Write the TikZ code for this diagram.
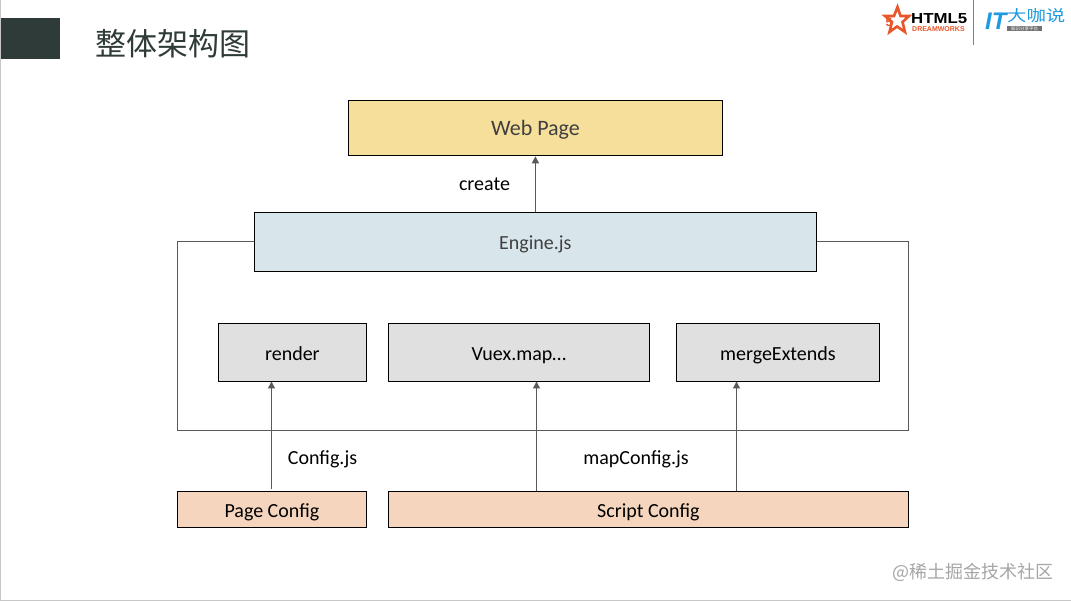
\documentclass[tikz,border=0pt]{standalone}
\usepackage{fontspec}
\setmainfont{Carlito}
\newfontfamily\cjk{Noto Sans CJK SC}
\newfontfamily\cjkw{Noto Sans CJK SC}[FakeStretch=1.25]
\newfontfamily\hv{Liberation Sans}
\newfontfamily\hvw{Liberation Sans}[FakeStretch=1.16]
\usetikzlibrary{arrows.meta,shapes.geometric}
\definecolor{ink}{HTML}{2F3B38}
\definecolor{yel}{HTML}{F5DF9B}
\definecolor{blu}{HTML}{D8E6EC}
\definecolor{gry}{HTML}{E0E0E0}
\definecolor{pch}{HTML}{F5D5BD}
\definecolor{lin}{HTML}{595959}
\definecolor{org}{HTML}{E8562A}
\definecolor{itb}{HTML}{1E9BE0}
\tikzset{
  x=1pt,y=-1pt,
  box/.style={draw=black,line width=0.8pt,inner sep=0pt,anchor=north west,text height=15.5pt,text depth=0pt,font=\fontsize{20}{24}\selectfont,text=black},
  lnk/.style={draw=lin,line width=1pt},
  arr/.style={lnk,line width=1.3pt,-{Triangle[length=7pt,width=7pt]}},
  lbl/.style={font=\fontsize{20}{24}\selectfont,text=black,inner sep=0pt},
}
\begin{document}
\begin{tikzpicture}
\useasboundingbox (0,0) rectangle (1071,601);
\fill[white] (0,0) rectangle (1071,601);
\draw[black!22,line width=1pt] (0.5,0) -- (0.5,600.5) -- (1071,600.5);
\node[fill=ink,minimum width=59pt,minimum height=41pt,inner sep=0pt,anchor=north west] (tab) at (1,18) {};
\node[anchor=west,inner sep=0pt,text=ink,font=\cjk\fontsize{31}{36}\selectfont] (title) at (95.5,44) {整体架构图};

\node[box,fill=yel,minimum width=374pt,minimum height=55pt,text height=14pt,font=\fontsize{22}{26}\selectfont,text=black!75] (web) at (348,100.5) {Web Page};
\node[box,fill=blu,minimum width=562pt,minimum height=59pt,font=\fontsize{20}{24}\selectfont,text=black!75] (eng) at (254,212) {Engine.js};
\node[box,fill=gry,minimum width=148pt,minimum height=58pt] (ren) at (218,323.5) {render};
\node[box,fill=gry,minimum width=261pt,minimum height=58pt] (vux) at (388,323.5) {Vuex.map…};
\node[box,fill=gry,minimum width=203pt,minimum height=58pt] (mrg) at (676,323.5) {mergeExtends};
\node[box,fill=pch,minimum width=189pt,minimum height=36pt] (pg) at (177,491) {Page Config};
\node[box,fill=pch,minimum width=520pt,minimum height=36pt] (sc) at (388,491) {Script Config};

\node[lbl] (lc) at (484.5,184) {create};
\node[lbl] (lj) at (322.5,459) {Config.js};
\node[lbl] (lm) at (636,459) {mapConfig.js};

\coordinate (fl) at (177.5,430.5);
\coordinate (fr) at (908.5,430.5);
\draw[lnk,line width=0.8pt] (eng.west) -- (eng.west -| fl) -- (fl) -- (fr) -- (eng.east -| fr) -- (eng.east);

\draw[arr] (eng.north -| web.south) -- (web.south);
\coordinate (a1) at (271.5,489);
\coordinate (a1t) at (271.5,381.5);
\draw[arr] (a1) -- (a1t);
\coordinate (a2) at (536.5,491);
\coordinate (a2t) at (536.5,381.5);
\draw[arr] (a2) -- (a2t);
\coordinate (a3) at (736.5,491);
\coordinate (a3t) at (736.5,381.5);
\draw[arr] (a3) -- (a3t);

% logos
\draw[org,line width=2.6pt,line join=miter] (897.5,7) -- (900.5,16) -- (909,16) -- (902.5,22) -- (905,32) -- (897,26.5) -- (889.5,32) -- (892,22) -- (885,16) -- (894,16) -- cycle;
\node[inner sep=0pt,text=org,font=\hv\bfseries\fontsize{12}{12}\selectfont] (five) at (889,22) {5};
\node[inner sep=0pt,anchor=west,text=black,font=\hvw\bfseries\fontsize{14.5}{15}\selectfont] (h5) at (911,18.5) {HTML5};
\node[inner sep=0pt,anchor=west,text=org,font=\hv\bfseries\fontsize{7}{7}\selectfont] (dw) at (912,29.5) {DREAMWORKS};
\draw[black!50,line width=1pt] (973.5,0) -- (973.5,45);
\node[inner sep=0pt,anchor=west,text=itb,font=\hv\bfseries\itshape\fontsize{24}{24}\selectfont] (it) at (985,21) {IT};
\node[inner sep=0pt,anchor=west,text=itb,font=\cjkw\fontsize{15.5}{16}\selectfont] (dk) at (1007,16) {大咖说};
\fill[black!55] (1007,26.5) rectangle (1042,31.5);
\node[inner sep=0pt,text=white,font=\cjk\fontsize{4.5}{5}\selectfont] (sub) at (1024.5,29) {知识分享平台};

\node[inner sep=0pt,anchor=west,text=black!35,font=\cjk\fontsize{18}{20}\selectfont] (wm) at (892,572) {@稀土掘金技术社区};
\end{tikzpicture}
\end{document}
